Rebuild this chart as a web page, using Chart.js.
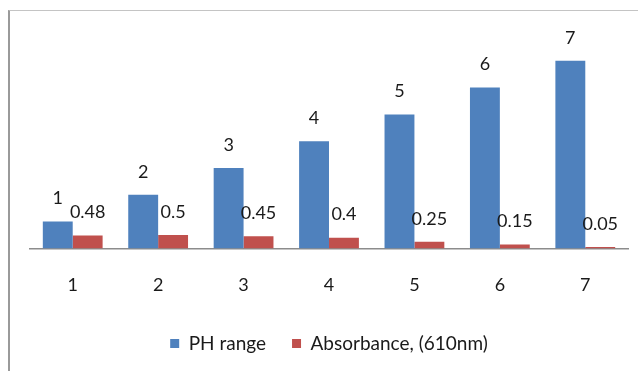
<!DOCTYPE html>
<html>
<head>
<meta charset="utf-8">
<script src="https://cdn.jsdelivr.net/npm/chart.js@4/dist/chart.umd.min.js"></script>
<style>
  html, body { margin: 0; padding: 0; background: #fff; }
  #wrap { position: relative; width: 638px; height: 371px; overflow: hidden; }
  #frame { position: absolute; left: 8px; top: 10px; width: 640px; height: 380px;
           border-left: 2px solid #9a9a9a; border-top: 1px solid #c4c4c4; box-sizing: border-box; }
  canvas { position: absolute; left: 0; top: 0; }
</style>
</head>
<body>
<div id="wrap">
  <div id="frame"></div>
  <canvas id="c" width="638" height="371"></canvas>
</div>
<script>
const categories = ["1", "2", "3", "4", "5", "6", "7"];
const phRange = [1, 2, 3, 4, 5, 6, 7];
const absorbance = [0.48, 0.5, 0.45, 0.4, 0.25, 0.15, 0.05];
const seriesNames = ["PH range", "Absorbance, (610nm)"];

const FONT = "Lato, 'Liberation Sans', sans-serif";

const labelPlugin = {
  id: 'barLabels',
  afterDatasetsDraw(chart) {
    const ctx = chart.ctx;
    ctx.save();
    ctx.font = "18px " + FONT;
    ctx.fillStyle = "#1a1a1a";
    ctx.textAlign = "center";
    ctx.textBaseline = "middle";
    chart.data.datasets.forEach((ds, i) => {
      const meta = chart.getDatasetMeta(i);
      meta.data.forEach((el, j) => {
        ctx.fillText(String(ds.data[j]), el.x, el.y - 23);
      });
    });
    ctx.restore();
  }
};

new Chart(document.getElementById('c'), {
  type: 'bar',
  data: {
    labels: categories,
    datasets: [
      { label: seriesNames[0], data: phRange, backgroundColor: '#4F81BD' },
      { label: seriesNames[1], data: absorbance, backgroundColor: '#C0504D' }
    ]
  },
  options: {
    responsive: false,
    animation: false,
    devicePixelRatio: 1,
    layout: { padding: { left: 30, right: 10, top: 34, bottom: 8 } },
    datasets: { bar: { categoryPercentage: 0.7, barPercentage: 1.0 } },
    scales: {
      x: {
        grid: { display: false, drawTicks: false },
        border: { display: true, color: '#8c8c8c', width: 1.5 },
        ticks: { color: '#1a1a1a', font: { family: FONT, size: 18 }, padding: 26 },
        afterFit(scale) { scale.height -= 14; }
      },
      y: { display: false, min: 0, max: 8 }
    },
    plugins: {
      legend: {
        position: 'bottom',
        labels: { color: '#1a1a1a', font: { family: FONT, size: 19 }, boxWidth: 9, boxHeight: 9, padding: 26 }
      },
      tooltip: { enabled: false }
    }
  },
  plugins: [labelPlugin]
});
</script>
</body>
</html>
